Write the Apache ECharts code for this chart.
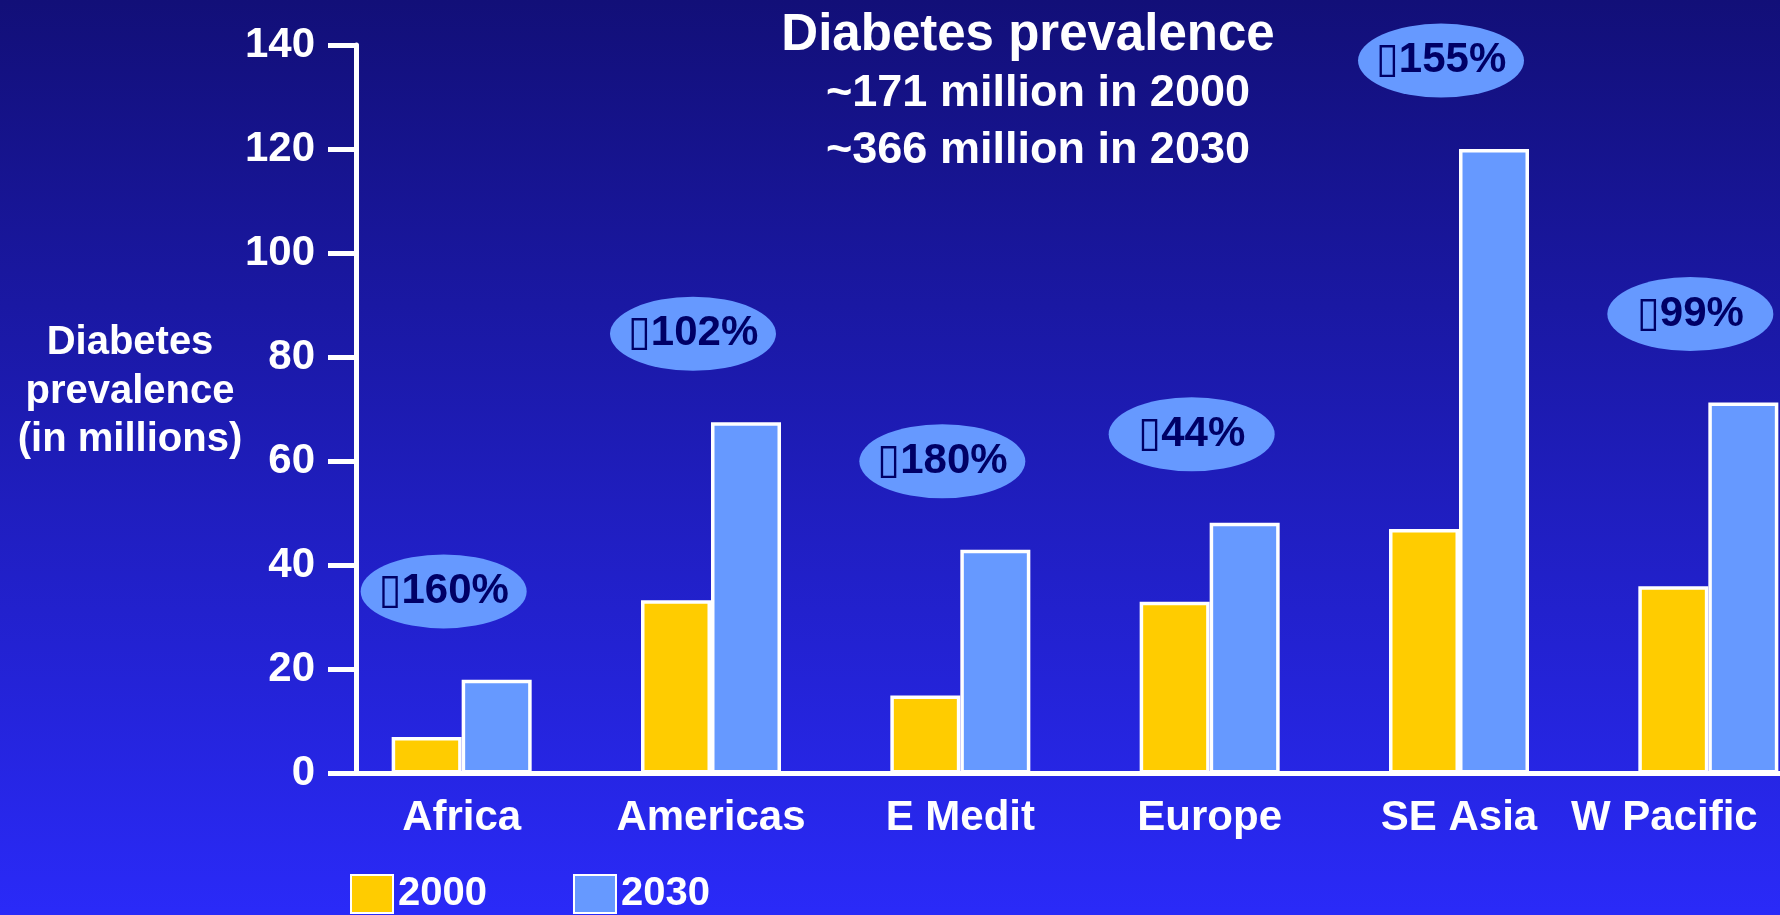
<!DOCTYPE html>
<html><head><meta charset="utf-8">
<script src="https://cdn.jsdelivr.net/npm/echarts@6/dist/echarts.min.js"></script>
<style>html,body{margin:0;padding:0;background:#1a1aa0;overflow:hidden}#c{width:1780px;height:915px}</style>
</head><body><div id="c"></div>
<script>
// ---- data ----
const regions = ['Africa', 'Americas', 'E Medit', 'Europe', 'SE Asia', 'W Pacific'];
const seriesNames = ['2000', '2030'];
const prev2000 = [7, 33.3, 15, 33, 47, 36];
const prev2030 = [18, 67.5, 43, 48.2, 120, 71.3];
const growthPct = [160, 102, 180, 44, 155, 99];
const yMin = 0, yMax = 140, yStep = 20;
const titleText = 'Diabetes prevalence';
const subtitleLines = ['~171 million in 2000', '~366 million in 2030'];
const yNameLines = ['Diabetes', 'prevalence', '(in millions)'];

// ---- styling ----
const FONT = '"Liberation Sans", Arial, Helvetica, sans-serif';
const WHITE = '#ffffff';
const YELLOW = '#ffcc00';
const BLUE = '#6699ff';
const NAVY = '#000066';

const badgeData = regions.map((r, i) => [i, Math.max(prev2000[i], prev2030[i]) + 17]);

const chart = echarts.init(document.getElementById('c'), null, {renderer: 'canvas'});
chart.setOption({
  animation: false,
  backgroundColor: {
    type: 'linear', x: 0, y: 0, x2: 0, y2: 1,
    colorStops: [{offset: 0, color: '#120f78'}, {offset: 1, color: '#2a2af8'}]
  },
  title: [
    {text: titleText, left: 1023, top: 2, textAlign: 'center',
     textStyle: {color: WHITE, fontFamily: FONT, fontWeight: 'bold', fontSize: 51, lineHeight: 57}},
    {text: subtitleLines.join('\n'), left: 1033, top: 60, textAlign: 'center',
     textStyle: {color: WHITE, fontFamily: FONT, fontWeight: 'bold', fontSize: 45, lineHeight: 57}},
    {text: yNameLines.join('\n'), left: 125, top: 314, textAlign: 'center',
     textStyle: {color: WHITE, fontFamily: FONT, fontWeight: 'bold', fontSize: 40, lineHeight: 48.5, align: 'center'}}
  ],
  legend: {
    data: seriesNames,
    left: 350, top: 874, padding: 0,
    itemWidth: 42, itemHeight: 38, itemGap: 86,
    icon: 'rect',
    textStyle: {color: WHITE, fontFamily: FONT, fontWeight: 'bold', fontSize: 40}
  },
  grid: {left: 337, width: 1496, top: 45, height: 728.5, containLabel: false, outerBoundsMode: 'none'},
  xAxis: {
    type: 'category',
    data: regions,
    axisLine: {lineStyle: {color: WHITE, width: 5}},
    axisTick: {show: false},
    axisLabel: {
      interval: 0, margin: 24,
      color: WHITE, fontFamily: FONT, fontWeight: 'bold', fontSize: 42,
      formatter: (v, i) => i === regions.length - 1 ? '{s|' + v + '}' : v,
      rich: {s: {padding: [0, 88, 0, 0], color: WHITE, fontFamily: FONT, fontWeight: 'bold', fontSize: 42}}
    },
    splitLine: {show: false}
  },
  yAxis: {
    type: 'value', min: yMin, max: yMax, interval: yStep,
    offset: -19,
    axisLine: {show: true, lineStyle: {color: WHITE, width: 5}},
    axisTick: {show: true, length: 28, lineStyle: {color: WHITE, width: 5}},
    axisLabel: {margin: 41, color: WHITE, fontFamily: FONT, fontWeight: 'bold', fontSize: 42},
    splitLine: {show: false}
  },
  series: [
    {name: seriesNames[0], type: 'bar', data: prev2000, barWidth: 70, barGap: '0%',
     itemStyle: {color: YELLOW, borderColor: WHITE, borderWidth: 3.5}},
    {name: seriesNames[1], type: 'bar', data: prev2030, barWidth: 70, barGap: '0%',
     itemStyle: {color: BLUE, borderColor: WHITE, borderWidth: 3.5}},
    {name: 'growth', type: 'scatter', data: badgeData, z: 5,
     symbol: 'path://M0 50A50 50 0 1 1 100 50A50 50 0 1 1 0 50Z',
     symbolSize: [166, 74], symbolOffset: [-18, 0],
     itemStyle: {color: BLUE, opacity: 1},
     label: {show: true, position: 'inside', color: NAVY,
       fontFamily: '"Liberation Sans", Arial, "DejaVu Sans", sans-serif', fontWeight: 'bold', fontSize: 42,
       formatter: p => '\u25AF' + growthPct[p.dataIndex] + '%'},
     emphasis: {disabled: true}}
  ]
});
</script>
</body></html>
